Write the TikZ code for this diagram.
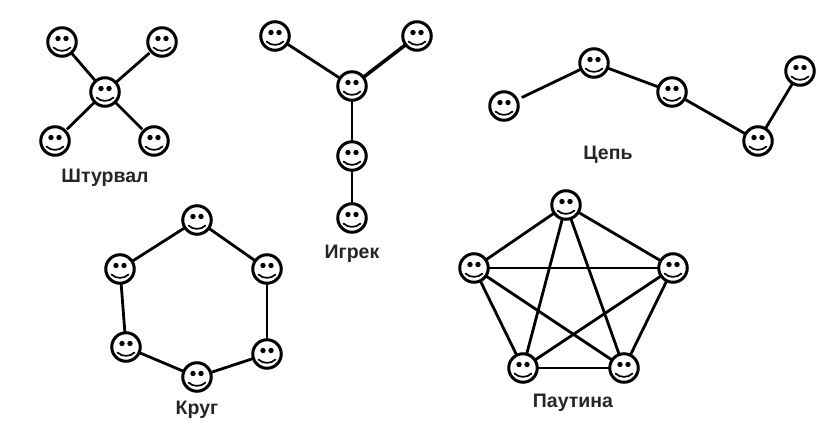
\documentclass[tikz,border=0pt]{standalone}
\usepackage{fontspec}
\setmainfont{Liberation Sans}
\tikzset{
  x=1pt,y=-1pt,
  smile/.style={circle,draw=black,line width=3pt,fill=white,minimum size=28.5pt,inner sep=0pt,outer sep=0.5pt,
    path picture={
      \fill[black] ([shift={(-4pt,3.5pt)}]path picture bounding box.center) circle (2.7pt);
      \fill[black] ([shift={(4pt,3.5pt)}]path picture bounding box.center) circle (2.7pt);
      \draw[black,line width=1.7pt,line cap=round] ([shift={(-8.5pt,-5.5pt)}]path picture bounding box.center)
        .. controls ([shift={(-4pt,-10pt)}]path picture bounding box.center) and ([shift={(4pt,-10pt)}]path picture bounding box.center) .. ([shift={(8.5pt,-5.5pt)}]path picture bounding box.center);
    }},
  link/.style={line width=2.8pt,black},
  thin link/.style={line width=2.1pt,black},
  caption/.style={font=\fontsize{19.5pt}{21pt}\selectfont\bfseries,text=black!85,inner sep=0pt}
}
\begin{document}
\begin{tikzpicture}
\useasboundingbox (0,0) rectangle (837,433);
\fill[white] (0,0) rectangle (837,433);
% Shturval
\node[smile] (s1) at (62,42) {};
\node[smile] (s2) at (162,42) {};
\node[smile] (s0) at (105,92) {};
\node[smile] (s3) at (55,141) {};
\node[smile] (s4) at (154,141) {};
\draw[link] (s1) -- (s0);
\draw[link,shorten <=2pt] (s2) -- (s0);
\draw[link,shorten >=2pt] (s0) -- (s3);
\draw[link,shorten >=2pt] (s0) -- (s4);
\node[caption] (ls) at (105,178) {Штурвал};
% Igrek
\node[smile] (y1) at (275,36) {};
\node[smile] (y2) at (417,36) {};
\node[smile] (y0) at (352,86) {};
\node[smile] (y3) at (352,156) {};
\node[smile] (y4) at (352,218) {};
\draw[link] (y1) -- (y0);
\draw[link,line width=3.6pt] (y2) -- (y0);
\draw[thin link] (y0) -- (y3);
\draw[thin link] (y3) -- (y4);
\node[caption] (ly) at (352,254) {Игрек};
% Chain
\node[smile] (c1) at (504,106) {};
\node[smile] (c2) at (594,63) {};
\node[smile] (c3) at (672,92) {};
\node[smile] (c4) at (758,141) {};
\node[smile] (c5) at (800,71) {};
\draw[link,shorten <=5pt] (c1) -- (c2);
\draw[link] (c2) -- (c3);
\draw[link] (c3) -- (c4);
\draw[link] (c4) -- (c5);
\node[caption] (lc) at (608,155) {Цепь};
% Krug
\node[smile] (k1) at (197,220) {};
\node[smile] (k2) at (267,269) {};
\node[smile] (k3) at (267,354) {};
\node[smile] (k4) at (197,377) {};
\node[smile] (k5) at (126,347) {};
\node[smile] (k6) at (120,269) {};
\draw[link] (k1) -- (k2);
\draw[link] (k2) -- (k3);
\draw[link] (k3) -- (k4);
\draw[link] (k4) -- (k5);
\draw[link] (k5) -- (k6);
\draw[link] (k6) -- (k1);
\node[caption] (lk) at (197,410) {Круг};
% Pautina
\node[smile] (p1) at (566,205) {};
\node[smile] (p2) at (673,268) {};
\node[smile] (p3) at (624,368) {};
\node[smile] (p4) at (523,368) {};
\node[smile] (p5) at (474,268) {};
\draw[link] (p1) -- (p2);
\draw[link] (p2) -- (p3);
\draw[thin link] (p3) -- (p4);
\draw[link] (p4) -- (p5);
\draw[link] (p5) -- (p1);
\draw[link] (p1) -- (p3);
\draw[link] (p1) -- (p4);
\draw[thin link] (p5) -- (p2);
\draw[link] (p5) -- (p3);
\draw[link] (p4) -- (p2);
\node[caption] (lp) at (573,403) {Паутина};
\end{tikzpicture}
\end{document}
